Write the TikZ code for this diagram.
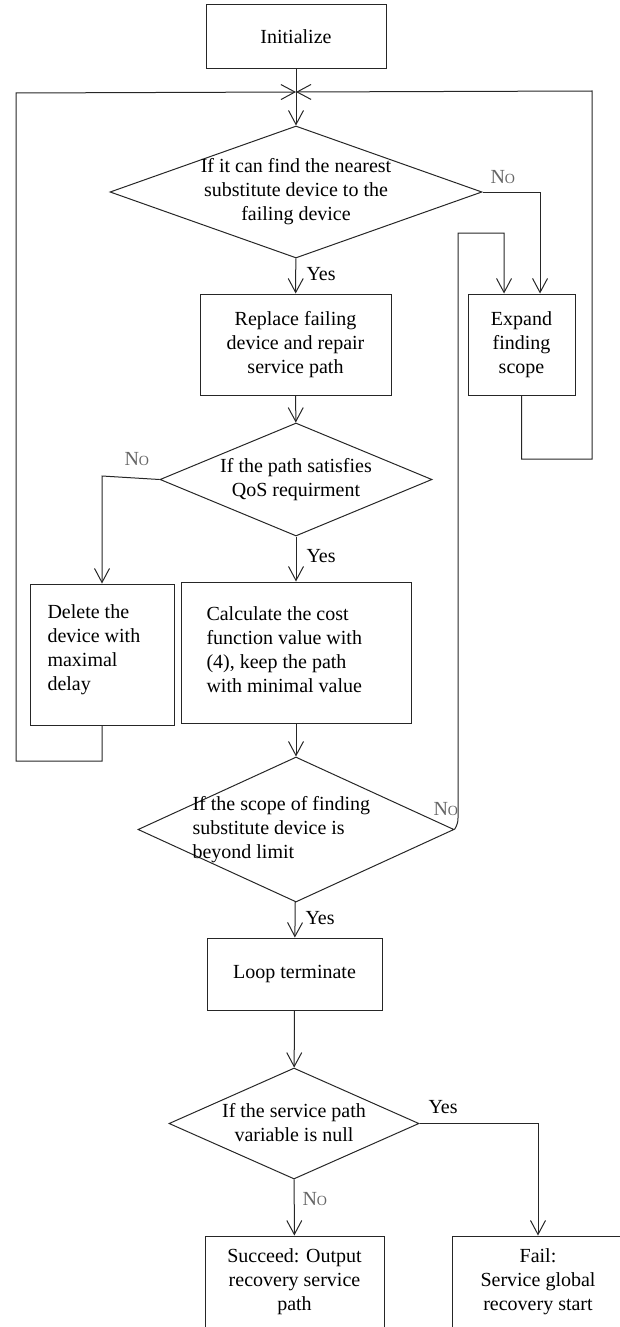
\documentclass[tikz,border=0pt]{standalone}
\usepackage{fontspec}
\setmainfont{Liberation Serif}
\usetikzlibrary{shapes.geometric,arrows.meta}
\newcommand\NoMark{\textcolor{black!60}{N{\fontsize{10.5pt}{12pt}\selectfont O}}}
\begin{document}
\begin{tikzpicture}[x=0.75pt,y=-0.75pt,
  line width=0.75pt, draw=black!85,
  every node/.style={font=\fontsize{15pt}{18pt}\selectfont},
  box/.style={draw, rectangle, inner sep=0pt, align=center},
  dia/.style={draw, diamond, inner sep=0pt},
  txt/.style={inner sep=0pt, align=center},
  ltxt/.style={inner sep=0pt, align=left, anchor=west},
  lbl/.style={inner sep=0pt, anchor=west},
  arr/.style={-{Straight Barb[length=10.5pt,width=11.25pt]}}]
\clip (0,0) rectangle (620,1327);
\useasboundingbox (0,0) rectangle (620,1327);
% boxes
\node[box, minimum width=135pt, minimum height=48pt] (init) at (296,37) {Initialize};
\coordinate (J) at (296,92);
\node[dia, minimum width=279pt, minimum height=99pt] (d1) at (296,192) {};
\node[txt] (d1t) at (296,192) {If it can find the nearest\\substitute device to the\\failing device};
\node[box, minimum width=143.25pt, minimum height=75.75pt] (rep) at (295.5,344.5) {Replace failing\\device and repair\\service path};
\node[box, minimum width=80.25pt, minimum height=75.75pt] (exp) at (521.5,344.5) {Expand\\finding\\scope};
\node[dia, minimum width=204pt, minimum height=84.75pt] (d2) at (296,479.5) {};
\node[txt] (d2t) at (296,480) {If the path satisfies\\QoS requirment};
\node[box, minimum width=108pt, minimum height=105.75pt] (del) at (102,654.5) {};
\node[ltxt] (delt) at (47,650) {Delete the\\device with\\maximal\\delay};
\node[box, minimum width=172.5pt, minimum height=105.75pt] (calc) at (296,652.5) {};
\node[ltxt] (calct) at (206,650) {Calculate the cost\\function value with\\(4), keep the path\\with minimal value};
\node[dia, minimum width=237pt, minimum height=108.75pt] (d3) at (296,829.5) {};
\node[ltxt] (d3t) at (192,830) {If the scope of finding\\substitute device is\\beyond limit};
\node[box, minimum width=131.25pt, minimum height=54pt] (lt) at (294.5,974) {Loop terminate};
\node[dia, minimum width=187.5pt, minimum height=83.25pt] (d4) at (294,1123.5) {};
\node[txt] (d4t) at (294,1123) {If the service path\\variable is null};
\node[box, minimum width=134.25pt, minimum height=78pt] (suc) at (294.5,1288) {};
\node[txt] (suct) at (294.5,1282) {Succeed: Output\\recovery service\\path};
\node[box, minimum width=129pt, minimum height=78pt] (fail) at (538,1288) {};
\node[txt] (failt) at (538,1282) {Fail:\\Service global\\recovery start};
% connectors
\draw[arr] (init) -- (d1);
\draw[arr] (d1) -- (rep);
\node[lbl] (y1) at (306,274) {Yes};
\draw[arr] (d1.east) -| ([xshift=13.9pt]exp.north);
\node[lbl] (n1) at (490,177) {\NoMark};
\draw[arr] (rep) -- (d2);
\draw[arr] (d2.west) -- (102,476) -- (del.north);
\node[lbl] (n2) at (124,459) {\NoMark};
\draw[arr] (d2) -- (calc);
\node[lbl] (y2) at (306,556) {Yes};
\draw[arr] (del.south) -- (102,761) -- (16,761) -- (16,93) -- (J);
\draw[arr] (exp.south) -- (521.5,459) -- (592,459) -- (592,91) -- (J);
\draw[arr] (calc) -- (d3);
\draw[arr] (d3.east) to[out=60,in=-90] (458,818) -- (458,233) -- (504,233) -- ([xshift=-13.1pt]exp.north);
\node[lbl] (n3) at (433,809) {\NoMark};
\draw[arr] (d3) -- (lt);
\node[lbl] (y3) at (305,918) {Yes};
\draw[arr] (lt) -- (d4);
\draw[arr] (d4.east) -| (fail.north);
\node[lbl] (y4) at (428,1107) {Yes};
\draw[arr] (d4) -- (suc);
\node[lbl] (n4) at (302,1199) {\NoMark};
\end{tikzpicture}
\end{document}
